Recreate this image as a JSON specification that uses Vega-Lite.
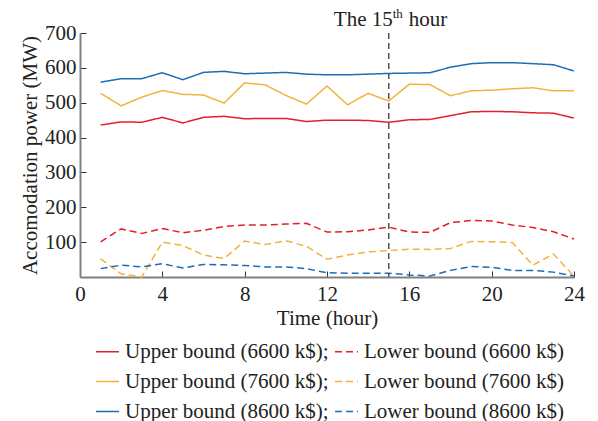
{
  "$schema": "https://vega.github.io/schema/vega-lite/v6.json",
  "width": 494,
  "height": 244,
  "autosize": {"type": "none"},
  "padding": {"left": 80, "top": 33, "right": 24, "bottom": 144},
  "background": "white",
  "config": {
    "view": {"stroke": null},
    "font": "Liberation Serif",
    "axis": {
      "labelFont": "Liberation Serif",
      "labelFontSize": 21,
      "labelColor": "#222222",
      "titleFont": "Liberation Serif",
      "titleFontSize": 21,
      "titleFontWeight": "normal",
      "titleColor": "#222222",
      "domainColor": "#808080",
      "domainWidth": 2,
      "tickColor": "#333333",
      "tickWidth": 1,
      "tickSize": -6,
      "grid": false,
      "labelFlush": false
    }
  },
  "layer": [
    {
      "data": {
        "values": [
          {"h": 1, "u66": 436, "l66": 101, "u76": 527, "l76": 52, "u86": 559, "l86": 24},
          {"h": 2, "u66": 445, "l66": 138, "u76": 491, "l76": 9, "u86": 569, "l86": 34},
          {"h": 3, "u66": 444, "l66": 125, "u76": 516, "l76": 0, "u86": 569, "l86": 29},
          {"h": 4, "u66": 458, "l66": 139, "u76": 535, "l76": 100, "u86": 586, "l86": 38},
          {"h": 5, "u66": 442, "l66": 127, "u76": 524, "l76": 90, "u86": 566, "l86": 26},
          {"h": 6, "u66": 458, "l66": 134, "u76": 522, "l76": 63, "u86": 587, "l86": 36},
          {"h": 7, "u66": 461, "l66": 145, "u76": 499, "l76": 53, "u86": 590, "l86": 35},
          {"h": 8, "u66": 454, "l66": 149, "u76": 557, "l76": 103, "u86": 583, "l86": 33},
          {"h": 9, "u66": 455, "l66": 149, "u76": 551, "l76": 93, "u86": 585, "l86": 29},
          {"h": 10, "u66": 455, "l66": 152, "u76": 521, "l76": 104, "u86": 587, "l86": 29},
          {"h": 11, "u66": 446, "l66": 154, "u76": 496, "l76": 88, "u86": 582, "l86": 24},
          {"h": 12, "u66": 450, "l66": 129, "u76": 548, "l76": 51, "u86": 580, "l86": 12},
          {"h": 13, "u66": 450, "l66": 130, "u76": 494, "l76": 63, "u86": 580, "l86": 11},
          {"h": 14, "u66": 449, "l66": 135, "u76": 527, "l76": 72, "u86": 582, "l86": 11},
          {"h": 15, "u66": 444, "l66": 143, "u76": 505, "l76": 76, "u86": 584, "l86": 11},
          {"h": 16, "u66": 451, "l66": 129, "u76": 553, "l76": 80, "u86": 585, "l86": 6},
          {"h": 17, "u66": 452, "l66": 128, "u76": 552, "l76": 79, "u86": 586, "l86": 3},
          {"h": 18, "u66": 463, "l66": 156, "u76": 520, "l76": 82, "u86": 602, "l86": 19},
          {"h": 19, "u66": 474, "l66": 162, "u76": 534, "l76": 102, "u86": 612, "l86": 30},
          {"h": 20, "u66": 475, "l66": 161, "u76": 536, "l76": 101, "u86": 615, "l86": 28},
          {"h": 21, "u66": 474, "l66": 149, "u76": 540, "l76": 99, "u86": 615, "l86": 19},
          {"h": 22, "u66": 471, "l66": 142, "u76": 543, "l76": 34, "u86": 612, "l86": 19},
          {"h": 23, "u66": 470, "l66": 130, "u76": 534, "l76": 66, "u86": 609, "l86": 14},
          {"h": 24, "u66": 456, "l66": 109, "u76": 534, "l76": 2, "u86": 591, "l86": 3}
        ]
      },
      "transform": [
        {"fold": ["u66", "l66", "u76", "l76", "u86", "l86"], "as": ["series", "power"]}
      ],
      "mark": {"type": "line", "strokeWidth": 1.5},
      "encoding": {
        "x": {
          "field": "h",
          "type": "quantitative",
          "scale": {"domain": [0, 24], "nice": false},
          "axis": {"title": "Time (hour)", "values": [0, 4, 8, 12, 16, 20, 24], "labelPadding": 12, "titlePadding": 3}
        },
        "y": {
          "field": "power",
          "type": "quantitative",
          "scale": {"domain": [0, 700], "nice": false},
          "axis": {"title": "Accomodation power (MW)", "values": [100, 200, 300, 400, 500, 600, 700], "labelPadding": 10, "titlePadding": 4}
        },
        "color": {
          "field": "series",
          "type": "nominal",
          "scale": {
            "domain": ["u66", "l66", "u76", "l76", "u86", "l86"],
            "range": ["#e41f2d", "#e41f2d", "#f2b33d", "#f2b33d", "#1d6db5", "#1d6db5"]
          },
          "legend": {
            "orient": "none", "legendX": 15, "legendY": 306, "columns": 2, "direction": "horizontal", "title": null,
            "symbolType": "stroke", "symbolSize": 529, "symbolStrokeWidth": 1.5,
            "labelFont": "Liberation Serif", "labelFontSize": 21, "labelColor": "#222222",
            "labelOffset": 5, "columnPadding": 3, "rowPadding": 7, "padding": 0, "labelLimit": 400,
            "labelExpr": "{'u66':'Upper bound (6600 k$);','l66':'Lower bound (6600 k$)','u76':'Upper bound (7600 k$);','l76':'Lower bound (7600 k$)','u86':'Upper bound (8600 k$);','l86':'Lower bound (8600 k$)'}[datum.label]"
          }
        },
        "strokeDash": {
          "field": "series",
          "type": "nominal",
          "scale": {
            "domain": ["u66", "l66", "u76", "l76", "u86", "l86"],
            "range": [[1, 0], [7, 4], [1, 0], [7, 4], [1, 0], [7, 4]]
          },
          "legend": {
            "orient": "none", "legendX": 15, "legendY": 306, "columns": 2, "direction": "horizontal", "title": null,
            "symbolType": "stroke", "symbolSize": 529, "symbolStrokeWidth": 1.5,
            "labelFont": "Liberation Serif", "labelFontSize": 21, "labelColor": "#222222",
            "labelOffset": 5, "columnPadding": 3, "rowPadding": 7, "padding": 0, "labelLimit": 400,
            "labelExpr": "{'u66':'Upper bound (6600 k$);','l66':'Lower bound (6600 k$)','u76':'Upper bound (7600 k$);','l76':'Lower bound (7600 k$)','u86':'Upper bound (8600 k$);','l86':'Lower bound (8600 k$)'}[datum.label]"
          }
        }
      }
    },
    {
      "data": {"values": [{"h": 15, "top": 700, "t1": "The 15", "t2": "th", "t3": "hour"}]},
      "layer": [
        {
          "mark": {"type": "rule", "color": "#555555", "strokeWidth": 1.5, "strokeDash": [6, 4]},
          "encoding": {"x": {"field": "h", "type": "quantitative"}}
        },
        {
          "mark": {"type": "text", "align": "right", "baseline": "alphabetic", "dx": 4, "dy": -7, "fontSize": 21, "font": "Liberation Serif", "color": "#222222"},
          "encoding": {
            "x": {"field": "h", "type": "quantitative"},
            "y": {"field": "top", "type": "quantitative"},
            "text": {"field": "t1"}
          }
        },
        {
          "mark": {"type": "text", "align": "left", "baseline": "alphabetic", "dx": 4, "dy": -15, "fontSize": 13, "font": "Liberation Serif", "color": "#222222"},
          "encoding": {
            "x": {"field": "h", "type": "quantitative"},
            "y": {"field": "top", "type": "quantitative"},
            "text": {"field": "t2"}
          }
        },
        {
          "mark": {"type": "text", "align": "left", "baseline": "alphabetic", "dx": 20, "dy": -7, "fontSize": 21, "font": "Liberation Serif", "color": "#222222"},
          "encoding": {
            "x": {"field": "h", "type": "quantitative"},
            "y": {"field": "top", "type": "quantitative"},
            "text": {"field": "t3"}
          }
        }
      ]
    }
  ]
}
